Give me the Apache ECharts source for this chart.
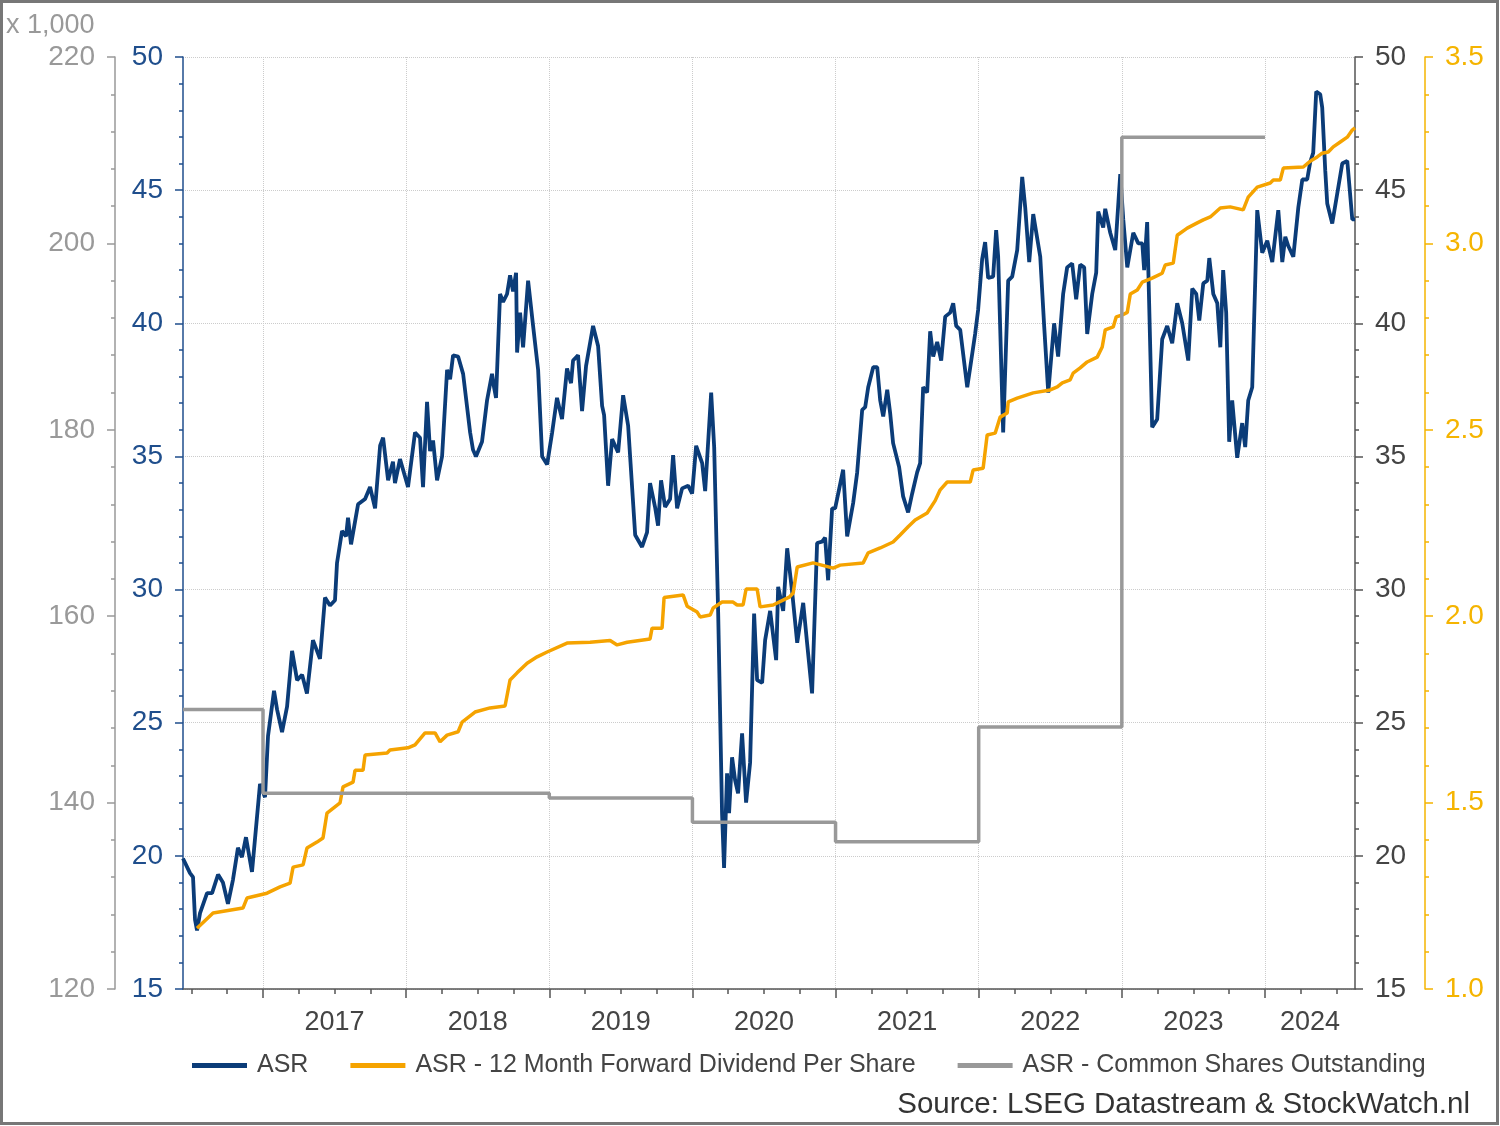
<!DOCTYPE html>
<html>
<head>
    <meta charset="utf-8">
    <title>ASR</title>
    <script src="https://cdn.jsdelivr.net/npm/echarts@6/dist/echarts.min.js"></script>
    <style>
        html, body { margin: 0; padding: 0; background: #fff; }
        #chart { width: 1500px; height: 1126px; }
    </style>
</head>
<body>
<div id="chart"></div>
<script>
    // tijd in decimale jaren
    var asrTime = [2016.441, 2016.490, 2016.511, 2016.525, 2016.539, 2016.560, 2016.609, 2016.644, 2016.686, 2016.720,
        2016.755, 2016.790, 2016.825, 2016.853, 2016.881, 2016.923, 2016.979, 2017.014, 2017.035, 2017.077,
        2017.098, 2017.133, 2017.168, 2017.203, 2017.238, 2017.273, 2017.307, 2017.349, 2017.398, 2017.433,
        2017.468, 2017.503, 2017.517, 2017.552, 2017.580, 2017.594, 2017.615, 2017.664, 2017.713, 2017.748,
        2017.783, 2017.818, 2017.839, 2017.874, 2017.908, 2017.922, 2017.957, 2018.013, 2018.062, 2018.097,
        2018.118, 2018.146, 2018.167, 2018.188, 2018.216, 2018.251, 2018.286, 2018.307, 2018.328, 2018.363,
        2018.398, 2018.447, 2018.467, 2018.488, 2018.530, 2018.565, 2018.600, 2018.614, 2018.628, 2018.656,
        2018.677, 2018.705, 2018.726, 2018.747, 2018.768, 2018.775, 2018.796, 2018.817, 2018.852, 2018.887,
        2018.922, 2018.950, 2018.985, 2019.020, 2019.054, 2019.089, 2019.124, 2019.152, 2019.166, 2019.201,
        2019.229, 2019.257, 2019.306, 2019.341, 2019.369, 2019.383, 2019.411, 2019.439, 2019.481, 2019.516,
        2019.551, 2019.600, 2019.648, 2019.683, 2019.704, 2019.739, 2019.760, 2019.781, 2019.809, 2019.844,
        2019.865, 2019.893, 2019.928, 2019.970, 2019.998, 2020.026, 2020.068, 2020.089, 2020.131, 2020.152,
        2020.180, 2020.207, 2020.221, 2020.242, 2020.256, 2020.277, 2020.298, 2020.319, 2020.347, 2020.375,
        2020.403, 2020.431, 2020.452, 2020.487, 2020.508, 2020.543, 2020.585, 2020.599, 2020.634, 2020.662,
        2020.697, 2020.732, 2020.774, 2020.801, 2020.836, 2020.871, 2020.906, 2020.927, 2020.948, 2020.976,
        2020.997, 2021.053, 2021.081, 2021.123, 2021.151, 2021.186, 2021.207, 2021.228, 2021.263, 2021.291,
        2021.312, 2021.333, 2021.361, 2021.382, 2021.402, 2021.444, 2021.472, 2021.507, 2021.535, 2021.570,
        2021.591, 2021.612, 2021.640, 2021.661, 2021.682, 2021.710, 2021.738, 2021.766, 2021.801, 2021.822,
        2021.843, 2021.871, 2021.920, 2021.941, 2021.975, 2021.996, 2022.024, 2022.045, 2022.066, 2022.101,
        2022.122, 2022.136, 2022.171, 2022.206, 2022.234, 2022.269, 2022.304, 2022.325, 2022.353, 2022.381,
        2022.430, 2022.458, 2022.486, 2022.527, 2022.555, 2022.590, 2022.618, 2022.653, 2022.681, 2022.709,
        2022.737, 2022.758, 2022.793, 2022.821, 2022.835, 2022.870, 2022.884, 2022.919, 2022.954, 2022.989,
        2023.010, 2023.038, 2023.080, 2023.115, 2023.143, 2023.156, 2023.177, 2023.212, 2023.247, 2023.282,
        2023.317, 2023.352, 2023.387, 2023.422, 2023.464, 2023.492, 2023.520, 2023.541, 2023.569, 2023.597,
        2023.611, 2023.639, 2023.667, 2023.688, 2023.708, 2023.729, 2023.750, 2023.771, 2023.806, 2023.841,
        2023.862, 2023.883, 2023.911, 2023.946, 2023.981, 2024.016, 2024.051, 2024.093, 2024.121, 2024.142,
        2024.163, 2024.198, 2024.233, 2024.261, 2024.295, 2024.316, 2024.337, 2024.358, 2024.386, 2024.400,
        2024.421, 2024.435, 2024.470, 2024.498, 2024.540, 2024.575, 2024.610, 2024.629];
    var asrPrice = [19.9, 19.35, 19.2, 17.6, 17.2, 17.85, 18.6, 18.6, 19.3, 19.0,
        18.2, 19.1, 20.3, 19.95, 20.7, 19.4, 22.7, 22.2, 24.5, 26.2,
        25.5, 24.65, 25.6, 27.7, 26.6, 26.8, 26.1, 28.1, 27.4, 29.7,
        29.4, 29.6, 31.0, 32.2, 32.0, 32.7, 31.7, 33.2, 33.4, 33.85,
        33.05, 35.4, 35.7, 34.1, 34.8, 34.0, 34.9, 33.85, 35.9, 35.7,
        33.85, 37.05, 35.2, 35.6, 34.1, 35.0, 38.25, 37.9, 38.8, 38.75,
        38.1, 35.9, 35.25, 35.0, 35.55, 37.1, 38.1, 37.6, 37.2, 41.1,
        40.8, 41.1, 41.8, 41.2, 41.9, 38.9, 40.4, 39.1, 41.6, 39.9,
        38.25, 35.0, 34.7, 35.9, 37.2, 36.4, 38.3, 37.75, 38.6, 38.8,
        36.7, 38.4, 39.9, 39.15, 36.9, 36.55, 33.9, 35.65, 35.15, 37.3,
        36.15, 32.05, 31.6, 32.15, 34.0, 33.1, 32.4, 34.1, 33.1, 33.4,
        35.05, 33.05, 33.8, 33.9, 33.6, 35.4, 34.75, 33.7, 37.4, 35.35,
        29.1, 21.6, 19.55, 23.1, 21.6, 23.7, 22.85, 22.35, 24.6, 22.0,
        23.5, 29.1, 26.6, 26.5, 28.1, 29.2, 27.35, 30.1, 29.2, 31.55,
        29.9, 28.0, 29.5, 28.0, 26.1, 31.75, 31.8, 31.95, 30.35, 33.05,
        33.05, 34.5, 32.0, 33.25, 34.4, 36.75, 36.85, 37.6, 38.35, 38.35,
        37.1, 36.5, 37.5, 36.6, 35.5, 34.6, 33.5, 32.9, 33.6, 34.4,
        34.75, 37.6, 37.4, 39.7, 38.75, 39.3, 38.6, 40.25, 40.4, 40.75,
        39.9, 39.75, 37.6, 38.35, 39.6, 40.5, 42.4, 43.05, 41.7, 41.75,
        43.5, 42.5, 35.9, 41.6, 41.75, 42.75, 45.5, 44.35, 42.3, 44.1,
        42.5, 39.85, 37.4, 40.0, 38.75, 41.1, 42.1, 42.25, 40.9, 42.2,
        42.1, 39.6, 41.1, 41.9, 44.2, 43.6, 44.3, 43.4, 42.75, 45.6,
        43.9, 42.1, 43.4, 43.0, 43.0, 42.0, 43.8, 36.1, 36.4, 39.4,
        39.9, 39.25, 40.75, 40.0, 38.6, 41.3, 41.1, 40.1, 41.5, 41.6,
        42.45, 41.1, 40.75, 39.1, 42.0, 40.4, 35.55, 37.1, 34.95, 36.25,
        35.35, 37.1, 37.6, 44.25, 42.65, 43.1, 42.3, 44.25, 42.3, 43.25,
        42.9, 42.5, 44.35, 45.4, 45.4, 46.05, 46.4, 48.7, 48.6, 48.1,
        45.75, 44.5, 43.75, 44.65, 46.0, 46.1, 43.9, 43.9];

    var divTime = [2016.539, 2016.651, 2016.860, 2016.888, 2017.028, 2017.119, 2017.189, 2017.210, 2017.280, 2017.307,
        2017.377, 2017.419, 2017.447, 2017.538, 2017.559, 2017.629, 2017.643, 2017.699, 2017.713, 2017.867,
        2017.887, 2018.013, 2018.062, 2018.132, 2018.202, 2018.237, 2018.286, 2018.363, 2018.391, 2018.481,
        2018.586, 2018.691, 2018.726, 2018.775, 2018.845, 2018.915, 2018.985, 2019.124, 2019.285, 2019.425,
        2019.474, 2019.544, 2019.704, 2019.718, 2019.788, 2019.802, 2019.935, 2019.963, 2020.033, 2020.054,
        2020.124, 2020.145, 2020.207, 2020.284, 2020.312, 2020.354, 2020.375, 2020.452, 2020.473, 2020.564,
        2020.676, 2020.704, 2020.732, 2020.843, 2020.983, 2021.032, 2021.193, 2021.228, 2021.312, 2021.402,
        2021.451, 2021.507, 2021.556, 2021.640, 2021.696, 2021.731, 2021.780, 2021.941, 2021.961, 2022.031,
        2022.059, 2022.115, 2022.150, 2022.199, 2022.206, 2022.269, 2022.381, 2022.500, 2022.549, 2022.584,
        2022.639, 2022.660, 2022.709, 2022.758, 2022.828, 2022.863, 2022.884, 2022.940, 2022.961, 2023.003,
        2023.038, 2023.059, 2023.108, 2023.143, 2023.212, 2023.282, 2023.303, 2023.359, 2023.387, 2023.457,
        2023.527, 2023.569, 2023.618, 2023.688, 2023.757, 2023.848, 2023.883, 2023.946, 2024.037, 2024.058,
        2024.107, 2024.128, 2024.268, 2024.302, 2024.330, 2024.365, 2024.400, 2024.442, 2024.477, 2024.526,
        2024.575, 2024.610, 2024.629];
    var divValue = [1.163, 1.204, 1.217, 1.244, 1.257, 1.274, 1.284, 1.327, 1.333, 1.378,
        1.394, 1.405, 1.472, 1.499, 1.542, 1.555, 1.587, 1.587, 1.628, 1.633,
        1.641, 1.647, 1.655, 1.687, 1.687, 1.663, 1.681, 1.690, 1.716, 1.743,
        1.754, 1.759, 1.829, 1.848, 1.874, 1.891, 1.904, 1.928, 1.930, 1.935,
        1.923, 1.930, 1.939, 1.968, 1.968, 2.050, 2.057, 2.027, 2.011, 1.998,
        2.003, 2.022, 2.038, 2.038, 2.030, 2.030, 2.073, 2.073, 2.025, 2.030,
        2.051, 2.062, 2.132, 2.143, 2.129, 2.137, 2.143, 2.170, 2.183, 2.199,
        2.218, 2.240, 2.258, 2.277, 2.310, 2.339, 2.360, 2.360, 2.392, 2.397,
        2.486, 2.491, 2.534, 2.545, 2.575, 2.585, 2.599, 2.607, 2.615, 2.626,
        2.634, 2.652, 2.666, 2.682, 2.695, 2.722, 2.768, 2.776, 2.803, 2.808,
        2.815, 2.864, 2.875, 2.896, 2.907, 2.920, 2.942, 2.947, 3.022, 3.041,
        3.055, 3.063, 3.071, 3.095, 3.098, 3.090, 3.124, 3.151, 3.162, 3.170,
        3.170, 3.202, 3.205, 3.216, 3.224, 3.232, 3.242, 3.245, 3.259, 3.272,
        3.285, 3.304, 3.310];

    // aandelen uitstaand (x 1.000)
    var sharesTime = [2016.441, 2017.0, 2019.0, 2020.0, 2021.0, 2022.0, 2023.0, 2024.0];
    var sharesValue = [150.0, 141.0, 140.5, 137.9, 135.8, 148.1, 211.4, 211.4];

    var yearTicks = [2017, 2018, 2019, 2020, 2021, 2022, 2023, 2024];
    var yearLabelPos = [2017.5, 2018.5, 2019.5, 2020.5, 2021.5, 2022.5, 2023.5, 2024.315];
    var quarterTicks = [2016.5, 2016.75, 2017.25, 2017.5, 2017.75, 2018.25, 2018.5, 2018.75,
        2019.25, 2019.5, 2019.75, 2020.25, 2020.5, 2020.75, 2021.25, 2021.5, 2021.75,
        2022.25, 2022.5, 2022.75, 2023.25, 2023.5, 2023.75, 2024.25, 2024.5];

    function zip(t, v) {
        var out = [];
        for (var i = 0; i < t.length; i++) out.push([t[i], v[i]]);
        return out;
    }

    var font = "'Liberation Sans', Arial, sans-serif";
    var xMin = 2016.441, xMax = 2024.629;

    var chart = echarts.init(document.getElementById('chart'));

    var option = {
        animation: false,
        textStyle: { fontFamily: font },
        grid: { left: 183, right: 145, top: 57, bottom: 137 },
        legend: {
            left: 187,
            top: 1048,
            itemWidth: 55,
            itemHeight: 5,
            itemGap: 42,
            icon: 'rect',
            textStyle: { fontSize: 25, color: '#444', fontFamily: font, padding: [0, 0, 0, 5] },
            data: ['ASR', 'ASR - 12 Month Forward Dividend Per Share', 'ASR - Common Shares Outstanding']
        },
        graphic: [
            {
                type: 'rect',
                shape: { x: 1.5, y: 1.5, width: 1496, height: 1122 },
                style: { fill: 'none', stroke: '#777', lineWidth: 3 },
                silent: true
            },
            {
                type: 'text',
                left: 6,
                top: 12,
                style: { text: 'x 1,000', fontSize: 27, fill: '#999', fontFamily: font }
            },
            {
                type: 'text',
                right: 30,
                top: 1090,
                style: { text: 'Source: LSEG Datastream & StockWatch.nl', fontSize: 29.5, fill: '#333', fontFamily: font }
            }
        ],
        xAxis: [{
            type: 'value',
            min: xMin,
            max: xMax,
            position: 'bottom',
            axisLine: { show: true, onZero: false, lineStyle: { color: '#555', width: 1.5 } },
            axisTick: { show: true, customValues: yearTicks, length: 9, lineStyle: { color: '#555', width: 1.5 } },
            axisLabel: {
                customValues: yearLabelPos,
                formatter: function (v) { return String(Math.floor(v)); },
                color: '#444', fontSize: 27, margin: 20, fontFamily: font
            },
            splitLine: { show: true, lineStyle: { color: '#ccc', type: 'dotted', width: 1 } }
        }, {
            type: 'value',
            min: xMin,
            max: xMax,
            position: 'bottom',
            axisLine: { show: false, onZero: false },
            axisTick: { show: true, customValues: quarterTicks, length: 5, lineStyle: { color: '#555', width: 1.5 } },
            axisLabel: { show: false },
            splitLine: { show: false }
        }],
        yAxis: [{
            type: 'value',
            position: 'left',
            min: 15, max: 50, interval: 5,
            axisLine: { show: true, lineStyle: { color: '#1f4e8c', width: 1.5 } },
            axisTick: { show: true, length: 8, lineStyle: { color: '#1f4e8c', width: 1.5 } },
            minorTick: { show: true, splitNumber: 5, length: 4, lineStyle: { color: '#1f4e8c', width: 1.5 } },
            axisLabel: { color: '#1f4e8c', fontSize: 28, margin: 20, fontFamily: font },
            splitLine: { show: true, lineStyle: { color: '#ccc', type: 'dotted', width: 1 } }
        }, {
            type: 'value',
            position: 'left',
            offset: 68,
            min: 120, max: 220, interval: 20,
            axisLine: { show: true, lineStyle: { color: '#999', width: 1.5 } },
            axisTick: { show: true, length: 8, lineStyle: { color: '#999', width: 1.5 } },
            minorTick: { show: true, splitNumber: 5, length: 4, lineStyle: { color: '#999', width: 1.5 } },
            axisLabel: { color: '#999', fontSize: 28, margin: 20, fontFamily: font },
            splitLine: { show: false }
        }, {
            type: 'value',
            position: 'right',
            min: 15, max: 50, interval: 5,
            axisLine: { show: true, lineStyle: { color: '#555', width: 1.5 } },
            axisTick: { show: true, length: 8, lineStyle: { color: '#555', width: 1.5 } },
            minorTick: { show: true, splitNumber: 5, length: 4, lineStyle: { color: '#555', width: 1.5 } },
            axisLabel: { color: '#444', fontSize: 28, margin: 20, fontFamily: font },
            splitLine: { show: false }
        }, {
            type: 'value',
            position: 'right',
            offset: 70,
            min: 1, max: 3.5, interval: 0.5,
            axisLine: { show: true, lineStyle: { color: '#f5b400', width: 1.5 } },
            axisTick: { show: true, length: 8, lineStyle: { color: '#f5b400', width: 1.5 } },
            minorTick: { show: true, splitNumber: 5, length: 4, lineStyle: { color: '#f5b400', width: 1.5 } },
            axisLabel: {
                color: '#f5b400', fontSize: 28, margin: 20, fontFamily: font,
                formatter: function (v) { return v.toFixed(1); }
            },
            splitLine: { show: false }
        }],
        series: [{
            name: 'ASR',
            type: 'line',
            xAxisIndex: 0,
            yAxisIndex: 0,
            data: zip(asrTime, asrPrice),
            showSymbol: false,
            symbol: 'none',
            color: '#0b3c78',
            lineStyle: { width: 3.8, color: '#0b3c78' }
        }, {
            name: 'ASR - 12 Month Forward Dividend Per Share',
            type: 'line',
            xAxisIndex: 0,
            yAxisIndex: 3,
            data: zip(divTime, divValue),
            showSymbol: false,
            symbol: 'none',
            color: '#f5a300',
            lineStyle: { width: 3.5, color: '#f5a300' }
        }, {
            name: 'ASR - Common Shares Outstanding',
            type: 'line',
            step: 'end',
            xAxisIndex: 0,
            yAxisIndex: 1,
            data: zip(sharesTime, sharesValue),
            showSymbol: false,
            symbol: 'none',
            color: '#999',
            lineStyle: { width: 3.5, color: '#999' }
        }]
    };

    chart.setOption(option);

    window.onresize = function () {
        chart.resize();
    };
</script>
</body>
</html>
